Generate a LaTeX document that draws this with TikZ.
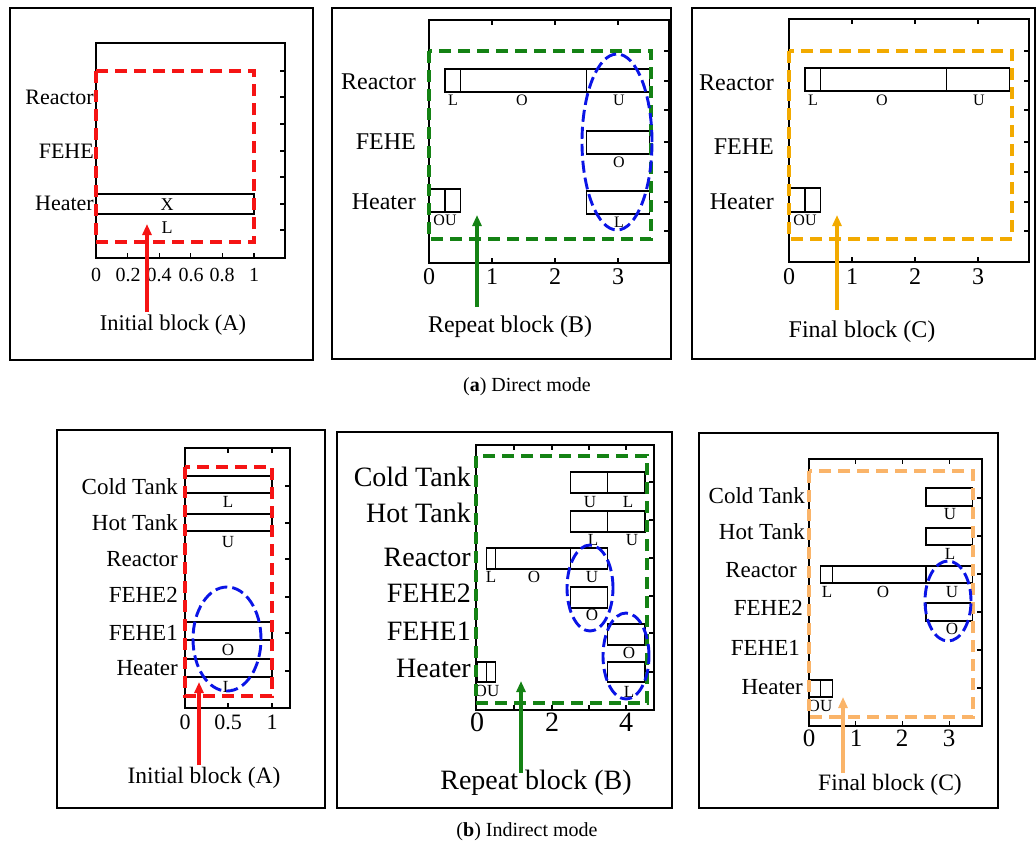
\documentclass[tikz,border=0pt]{standalone}
\usepackage{fontspec}
\setmainfont{Liberation Serif}
\usetikzlibrary{arrows.meta}
\definecolor{cred}{RGB}{245,20,20}
\definecolor{cgreen}{RGB}{20,130,20}
\definecolor{corange}{RGB}{242,170,0}
\definecolor{clorange}{RGB}{250,180,105}
\definecolor{cblue}{RGB}{10,20,230}
\newcommand\fs[1]{\fontsize{#1}{#1}\selectfont}
\newcommand\gbar[6]{\draw[barline] ({#1+#3*#2},#5) rectangle ({#1+#4*#2},#6);}
\begin{document}
\begin{tikzpicture}[x=1pt,y=-1pt,
  frame/.style={draw=black,line width=2.7pt},
  axisbox/.style={draw=black,line width=1.6pt},
  tk/.style={line width=1.1pt},
  barline/.style={draw=black,line width=1.5pt},
  dbox/.style={line width=3.3pt,dash pattern=on 12pt off 7pt},
  bell/.style={draw=cblue,line width=2.9pt,dash pattern=on 12pt off 5pt},
  arr/.style={line width=3.3pt,-{Triangle[length=11pt,width=9pt]}},
  lab/.style={inner sep=0pt,anchor=east},
  txt/.style={inner sep=0pt}]
\useasboundingbox (0,0) rectangle (1036,847);
\fill[white] (0,0) rectangle (1036,847);

% ================= Panel 1 =================
\draw[frame] (10,8) rectangle (313,360);
\draw[axisbox] (96,43) rectangle (285,258);
\foreach \y in {71,97,124,151,177,204,230} \draw[tk] (285,\y) -- ++(-5,0);
\foreach \x in {127.6,159.2,190.8,222.4,254} \draw[tk] (\x,258) -- ++(0,-5);
\gbar{96}{158}{0}{1}{194}{214}
\node[txt,font=\fs{18}] (p1x) at (167,205) {X};
\node[txt,font=\fs{18}] (p1l) at (167,228) {L};
\draw[dbox,cred] (96,71) rectangle (254,242);
\node[lab,font=\fs{22}] (p1rea) at (94,97) {Reactor};
\node[lab,font=\fs{22}] (p1feh) at (94,151) {FEHE};
\node[lab,font=\fs{22}] (p1hea) at (94,203) {Heater};
\node[txt,font=\fs{20}] (p1t0) at (96,275) {0};
\node[txt,font=\fs{20}] (p1t1) at (128,275) {0.2};
\node[txt,font=\fs{20}] (p1t2) at (159,275) {0.4};
\node[txt,font=\fs{20}] (p1t3) at (191,275) {0.6};
\node[txt,font=\fs{20}] (p1t4) at (222,275) {0.8};
\node[txt,font=\fs{20}] (p1t5) at (254,275) {1};
\node[txt,font=\fs{22.5}] (p1blk) at (173,325) {Initial block (A)};
\coordinate (p1a0) at (147,312);
\coordinate (p1a1) at (147,224);
\draw[arr,cred] (p1a0) -- (p1a1);

% ================= Panel 2 =================
\draw[frame] (332,8) rectangle (671,359);
\draw[axisbox] (429,20) rectangle (669,263);
\foreach \y in {51,81,110,142,172,202,231} \draw[tk] (669,\y) -- ++(-5,0);
\foreach \x in {492,555,618} {\draw[tk] (\x,263) -- ++(0,-5); \draw[tk] (\x,20) -- ++(0,5);}
\gbar{429}{63}{0.25}{0.5}{69}{92}
\gbar{429}{63}{0.5}{2.5}{69}{92}
\gbar{429}{63}{2.5}{3.5}{69}{92}
\node[txt,font=\fs{16}] (p2l1) at (453,100) {L};
\node[txt,font=\fs{16}] (p2o1) at (522,100) {O};
\node[txt,font=\fs{16}] (p2u1) at (619,100) {U};
\gbar{429}{63}{2.5}{3.5}{131}{154}
\node[txt,font=\fs{16}] (p2o2) at (619,162) {O};
\gbar{429}{63}{0}{0.25}{189}{212}
\gbar{429}{63}{0.25}{0.5}{189}{212}
\node[txt,font=\fs{16}] (p2ou) at (445,220) {OU};
\gbar{429}{63}{2.5}{3.5}{191}{214}
\node[txt,font=\fs{16}] (p2l2) at (619,222) {L};
\draw[dbox,cgreen] (429,51) rectangle (651,239);
\draw[bell] (617,142) ellipse [x radius=35pt,y radius=88pt];
\node[lab,font=\fs{24}] (p2rea) at (416,82) {Reactor};
\node[lab,font=\fs{24}] (p2feh) at (416,142) {FEHE};
\node[lab,font=\fs{24}] (p2hea) at (416,202) {Heater};
\node[txt,font=\fs{24}] (p2t0) at (429,277) {0};
\node[txt,font=\fs{24}] (p2t1) at (492,277) {1};
\node[txt,font=\fs{24}] (p2t2) at (555,277) {2};
\node[txt,font=\fs{24}] (p2t3) at (618,277) {3};
\node[txt,font=\fs{24}] (p2blk) at (510,327) {Repeat block (B)};
\coordinate (p2a0) at (477,307);
\coordinate (p2a1) at (477,215);
\draw[arr,cgreen] (p2a0) -- (p2a1);

% ================= Panel 3 =================
\draw[frame] (692,8) rectangle (1035,359);
\draw[axisbox] (789,19) rectangle (1029,262);
\foreach \y in {51,81,110,142,172,202,231} \draw[tk] (1029,\y) -- ++(-5,0);
\foreach \x in {852,915,978} {\draw[tk] (\x,262) -- ++(0,-5); \draw[tk] (\x,19) -- ++(0,5);}
\gbar{789}{63}{0.25}{0.5}{68}{91}
\gbar{789}{63}{0.5}{2.5}{68}{91}
\gbar{789}{63}{2.5}{3.5}{68}{91}
\node[txt,font=\fs{16}] (p3l1) at (813,100) {L};
\node[txt,font=\fs{16}] (p3o1) at (882,100) {O};
\node[txt,font=\fs{16}] (p3u1) at (979,100) {U};
\gbar{789}{63}{0}{0.25}{188}{212}
\gbar{789}{63}{0.25}{0.5}{188}{212}
\node[txt,font=\fs{16}] (p3ou) at (805,220) {OU};
\draw[dbox,corange] (789,51) rectangle (1012,239);
\node[lab,font=\fs{24}] (p3rea) at (774,83) {Reactor};
\node[lab,font=\fs{24}] (p3feh) at (774,147) {FEHE};
\node[lab,font=\fs{24}] (p3hea) at (774,202) {Heater};
\node[txt,font=\fs{24}] (p3t0) at (789,277) {0};
\node[txt,font=\fs{24}] (p3t1) at (852,277) {1};
\node[txt,font=\fs{24}] (p3t2) at (915,277) {2};
\node[txt,font=\fs{24}] (p3t3) at (978,277) {3};
\node[txt,font=\fs{24}] (p3blk) at (862,332) {Final block (C)};
\coordinate (p3a0) at (837,310);
\coordinate (p3a1) at (837,215);
\draw[arr,corange] (p3a0) -- (p3a1);

\node[txt,font=\fs{20}] (capa) at (527,387) {(\textbf{a}) Direct mode};

% ================= Panel 4 =================
\draw[frame] (57,430) rectangle (325,808);
\draw[axisbox] (185,448) rectangle (290,708);
\foreach \y in {486,523,559,597,633,671} \draw[tk] (290,\y) -- ++(-5,0);
\foreach \x in {228,272} {\draw[tk] (\x,708) -- ++(0,-5); \draw[tk] (\x,448) -- ++(0,5);}
\gbar{185}{87}{0}{1}{476}{493}
\gbar{185}{87}{0}{1}{514}{531}
\gbar{185}{87}{0}{1}{622}{640}
\gbar{185}{87}{0}{1}{659}{677}
\node[txt,font=\fs{17}] (p4l1) at (228,502) {L};
\node[txt,font=\fs{17}] (p4u1) at (228,542) {U};
\node[txt,font=\fs{17}] (p4o1) at (228,650) {O};
\node[txt,font=\fs{17}] (p4l2) at (228,687) {L};
\draw[dbox,cred] (185,467) rectangle (272,696);
\draw[bell] (227,639) ellipse [x radius=34pt,y radius=52pt];
\node[lab,font=\fs{23}] (p4ct) at (178,487) {Cold Tank};
\node[lab,font=\fs{23}] (p4ht) at (178,523) {Hot Tank};
\node[lab,font=\fs{23}] (p4rea) at (178,559) {Reactor};
\node[lab,font=\fs{23}] (p4f2) at (178,595) {FEHE2};
\node[lab,font=\fs{23}] (p4f1) at (178,633) {FEHE1};
\node[lab,font=\fs{23}] (p4hea) at (178,668) {Heater};
\node[txt,font=\fs{22}] (p4t0) at (185,722) {0};
\node[txt,font=\fs{22}] (p4t1) at (228,722) {0.5};
\node[txt,font=\fs{22}] (p4t2) at (272,722) {1};
\node[txt,font=\fs{23.5}] (p4blk) at (204,778) {Initial block (A)};
\coordinate (p4a0) at (199,765);
\coordinate (p4a1) at (199,682);
\draw[arr,cred] (p4a0) -- (p4a1);

% ================= Panel 5 =================
\draw[frame] (337,432) rectangle (672,808);
\draw[axisbox] (476,445) rectangle (654,710);
\foreach \y in {482,520,558,596,633,672} \draw[tk] (654,\y) -- ++(-5,0);
\foreach \x in {514,552,589,626} {\draw[tk] (\x,710) -- ++(0,-5); \draw[tk] (\x,445) -- ++(0,5);}
\gbar{477}{37.3}{2.5}{3.5}{472}{493}
\gbar{477}{37.3}{3.5}{4.5}{472}{493}
\node[txt,font=\fs{17}] (p5u1) at (590,502) {U};
\node[txt,font=\fs{17}] (p5l1) at (628,502) {L};
\gbar{477}{37.3}{2.5}{3.5}{511}{532}
\gbar{477}{37.3}{3.5}{4.5}{511}{532}
\node[txt,font=\fs{17}] (p5l2) at (593,540) {L};
\node[txt,font=\fs{17}] (p5u2) at (632,540) {U};
\gbar{477}{37.3}{0.25}{0.5}{548}{569}
\gbar{477}{37.3}{0.5}{2.5}{548}{569}
\gbar{477}{37.3}{2.5}{3.5}{548}{569}
\node[txt,font=\fs{17}] (p5l3) at (491,577) {L};
\node[txt,font=\fs{17}] (p5o3) at (534,577) {O};
\node[txt,font=\fs{17}] (p5u3) at (592,577) {U};
\gbar{477}{37.3}{2.5}{3.5}{587}{608}
\node[txt,font=\fs{17}] (p5o4) at (592,615) {O};
\gbar{477}{37.3}{3.5}{4.5}{624}{645}
\node[txt,font=\fs{17}] (p5o5) at (629,653) {O};
\gbar{477}{37.3}{0}{0.25}{662}{682}
\gbar{477}{37.3}{0.25}{0.5}{662}{682}
\gbar{477}{37.3}{3.5}{4.5}{662}{682}
\node[txt,font=\fs{17}] (p5ou) at (487,691) {OU};
\node[txt,font=\fs{17}] (p5l6) at (629,692) {L};
\draw[dbox,cgreen] (476,456) rectangle (647,703);
\draw[bell] (590,588) ellipse [x radius=23pt,y radius=43pt];
\draw[bell] (626,656) ellipse [x radius=23pt,y radius=43pt];
\node[lab,font=\fs{28}] (p5ct) at (471,477) {Cold Tank};
\node[lab,font=\fs{28}] (p5ht) at (471,513) {Hot Tank};
\node[lab,font=\fs{28}] (p5rea) at (471,557) {Reactor};
\node[lab,font=\fs{28}] (p5f2) at (471,593) {FEHE2};
\node[lab,font=\fs{28}] (p5f1) at (471,631) {FEHE1};
\node[lab,font=\fs{28}] (p5hea) at (471,668) {Heater};
\node[txt,font=\fs{28}] (p5t0) at (477,722) {0};
\node[txt,font=\fs{28}] (p5t1) at (552,722) {2};
\node[txt,font=\fs{28}] (p5t2) at (626,722) {4};
\node[txt,font=\fs{28}] (p5blk) at (536,783) {Repeat block (B)};
\coordinate (p5a0) at (521,773);
\coordinate (p5a1) at (521,681);
\draw[arr,cgreen] (p5a0) -- (p5a1);

% ================= Panel 6 =================
\draw[frame] (699,433) rectangle (998,808);
\draw[axisbox] (809,459) rectangle (982,726);
\foreach \y in {498,536,574,612,650,688} \draw[tk] (982,\y) -- ++(-5,0);
\foreach \x in {855.7,902.4,949.1} {\draw[tk] (\x,726) -- ++(0,-5); \draw[tk] (\x,459) -- ++(0,5);}
\gbar{809}{46.7}{2.5}{3.5}{488}{506}
\node[txt,font=\fs{17}] (p6u1) at (950,514) {U};
\gbar{809}{46.7}{2.5}{3.5}{528}{545}
\node[txt,font=\fs{17}] (p6l2) at (950,554) {L};
\gbar{809}{46.7}{0.25}{0.5}{566}{583}
\gbar{809}{46.7}{0.5}{2.5}{566}{583}
\gbar{809}{46.7}{2.5}{3.5}{566}{583}
\node[txt,font=\fs{17}] (p6l3) at (827,592) {L};
\node[txt,font=\fs{17}] (p6o3) at (883,592) {O};
\node[txt,font=\fs{17}] (p6u3) at (952,592) {U};
\gbar{809}{46.7}{2.5}{3.5}{603}{621}
\node[txt,font=\fs{17}] (p6o4) at (952,629) {O};
\gbar{809}{46.7}{0}{0.25}{680}{697}
\gbar{809}{46.7}{0.25}{0.5}{680}{697}
\node[txt,font=\fs{17}] (p6ou) at (820,706) {OU};
\draw[dbox,clorange] (809,471) rectangle (973,717);
\draw[bell] (948,601) ellipse [x radius=23pt,y radius=40pt];
\node[lab,font=\fs{23}] (p6ct) at (805,496) {Cold Tank};
\node[lab,font=\fs{23}] (p6ht) at (805,532) {Hot Tank};
\node[lab,font=\fs{23}] (p6rea) at (797,570) {Reactor};
\node[lab,font=\fs{23}] (p6f2) at (803,608) {FEHE2};
\node[lab,font=\fs{23}] (p6f1) at (800,648) {FEHE1};
\node[lab,font=\fs{23}] (p6hea) at (803,687) {Heater};
\node[txt,font=\fs{25}] (p6t0) at (809,738) {0};
\node[txt,font=\fs{25}] (p6t1) at (856,738) {1};
\node[txt,font=\fs{25}] (p6t2) at (902,738) {2};
\node[txt,font=\fs{25}] (p6t3) at (949,738) {3};
\node[txt,font=\fs{23.5}] (p6blk) at (890,785) {Final block (C)};
\coordinate (p6a0) at (843,773);
\coordinate (p6a1) at (843,697);
\draw[arr,clorange] (p6a0) -- (p6a1);

\node[txt,font=\fs{20}] (capb) at (527,832) {(\textbf{b}) Indirect mode};
\end{tikzpicture}
\end{document}
